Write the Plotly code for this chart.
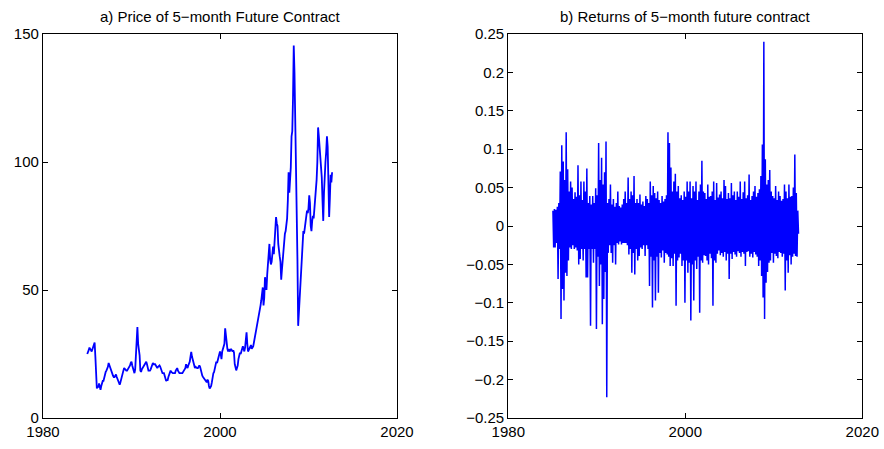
import plotly.graph_objects as go

# ---------------- data ----------------
# monthly price of the 5-month future contract, Jan 1985 .. Sep 2012
price = [
    25.0, 25.5, 26.5, 27.5, 26.5, 26.5, 26.0, 27.0, 28.0, 28.5, 29.5, 24.0,   # 1985
    17.0, 11.5, 12.5, 12.0, 13.5, 12.5, 11.0, 12.5, 14.0, 14.5, 14.5, 16.0,   # 1986
    17.5, 18.0, 18.5, 19.0, 20.0, 21.5, 20.5, 19.5, 19.5, 18.5, 17.0, 16.5,   # 1987
    16.0, 16.0, 16.5, 17.0, 16.0, 15.0, 14.5, 14.0, 13.0, 14.0, 15.5, 17.0,   # 1988
    17.5, 18.5, 19.5, 19.0, 19.0, 18.5, 18.5, 19.0, 19.5, 19.5, 20.5, 21.5,   # 1989
    22.0, 20.5, 19.0, 18.0, 17.5, 19.0, 24.0, 33.0, 35.5, 29.0, 27.0, 24.5,   # 1990
    18.5, 18.0, 19.0, 19.5, 19.5, 20.0, 20.5, 21.5, 22.0, 21.0, 19.5, 18.5,   # 1991
    18.5, 18.5, 19.0, 20.0, 20.5, 21.5, 21.0, 21.0, 21.0, 20.5, 20.0, 19.5,   # 1992
    20.0, 20.5, 20.5, 20.0, 19.0, 18.0, 17.5, 17.5, 17.5, 16.5, 15.5, 14.5,   # 1993
    14.8, 14.8, 16.0, 17.0, 18.0, 18.5, 18.0, 17.5, 17.5, 17.5, 17.5, 17.5,   # 1994
    18.5, 19.5, 19.5, 18.5, 17.5, 17.5, 17.5, 17.5, 17.5, 17.5, 18.0, 18.5,   # 1995
    18.5, 19.5, 21.0, 20.0, 19.5, 20.5, 21.0, 22.0, 24.0, 25.8, 24.0, 23.0,   # 1996
    21.0, 20.0, 19.5, 20.0, 19.5, 19.5, 19.5, 20.0, 20.5, 20.0, 18.5, 17.5,   # 1997
    16.5, 16.0, 15.5, 15.5, 14.5, 14.5, 14.0, 15.0, 14.5, 12.5, 11.5, 12.0,   # 1998
    12.5, 14.0, 16.5, 17.5, 18.0, 19.0, 20.5, 22.0, 21.5, 22.5, 24.0, 25.0,   # 1999
    26.0, 25.0, 23.0, 26.0, 27.0, 27.0, 29.0, 35.0, 31.0, 30.0, 27.0, 26.0,   # 2000
    27.0, 26.0, 26.5, 27.0, 26.5, 26.0, 26.5, 25.5, 21.0, 19.5, 18.6, 19.5,   # 2001
    20.5, 23.0, 25.0, 25.5, 25.0, 26.0, 27.0, 28.0, 27.0, 26.0, 27.5, 30.0,   # 2002
    33.5, 29.0, 26.0, 26.5, 27.0, 28.0, 28.5, 27.0, 27.5, 28.0, 29.5, 31.0,   # 2003
    33.0, 33.5, 36.0, 37.0, 38.0, 40.0, 42.0, 44.0, 46.0, 49.0, 51.0, 44.0,   # 2004
    47.0, 55.0, 52.0, 50.0, 56.0, 59.0, 64.0, 68.0, 62.0, 60.0, 61.0, 65.0,   # 2005
    67.0, 64.0, 70.0, 74.0, 78.5, 76.0, 75.0, 68.0, 63.0, 63.0, 61.0, 54.0,   # 2006
    58.0, 62.0, 66.0, 68.0, 72.0, 73.0, 76.0, 78.0, 85.0, 96.0, 88.0, 92.0,   # 2007
    98.0, 110.0, 112.0, 125.0, 145.5, 135.0, 118.0, 105.0, 80.0, 62.0, 36.0, 42.0,  # 2008
    46.0, 52.0, 55.0, 62.0, 70.0, 73.0, 72.0, 75.0, 76.0, 80.0, 81.0, 80.0,   # 2009
    82.0, 87.0, 84.0, 75.0, 73.0, 77.0, 79.0, 78.0, 82.0, 85.0, 87.0, 93.0,   # 2010
    100.0, 113.5, 110.0, 106.0, 100.0, 97.0, 94.0, 85.0, 77.0, 88.0, 98.0, 100.0,  # 2011
    104.0, 110.0, 106.0, 84.0, 78.5, 86.0, 95.0, 92.0, 96.0,                 # 2012
]

# two-monthly maximum and minimum of the daily returns (6 bins per year)
ret_max = [
    0.020, 0.022, 0.021, 0.025, 0.030, 0.071,   # 1985
    0.105, 0.084, 0.060, 0.122, 0.074, 0.045,   # 1986
    0.058, 0.050, 0.035, 0.044, 0.038, 0.079,   # 1987
    0.040, 0.058, 0.034, 0.058, 0.045, 0.075,   # 1988
    0.030, 0.039, 0.028, 0.039, 0.030, 0.049,   # 1989
    0.040, 0.108, 0.060, 0.089, 0.054, 0.070,   # 1990
    0.110, 0.030, 0.035, 0.054, 0.028, 0.035,   # 1991
    0.025, 0.030, 0.045, 0.026, 0.024, 0.028,   # 1992
    0.035, 0.045, 0.030, 0.063, 0.035, 0.045,   # 1993
    0.040, 0.065, 0.030, 0.035, 0.030, 0.041,   # 1994
    0.028, 0.032, 0.026, 0.039, 0.035, 0.030,   # 1995
    0.058, 0.040, 0.052, 0.043, 0.036, 0.045,   # 1996
    0.034, 0.030, 0.039, 0.032, 0.035, 0.040,   # 1997
    0.122, 0.108, 0.076, 0.045, 0.058, 0.068,   # 1998
    0.045, 0.052, 0.036, 0.040, 0.034, 0.045,   # 1999
    0.038, 0.058, 0.045, 0.058, 0.036, 0.052,   # 2000
    0.045, 0.058, 0.034, 0.045, 0.054, 0.085,   # 2001
    0.045, 0.043, 0.035, 0.054, 0.038, 0.039,   # 2002
    0.045, 0.058, 0.034, 0.056, 0.037, 0.041,   # 2003
    0.045, 0.036, 0.060, 0.052, 0.035, 0.043,   # 2004
    0.036, 0.056, 0.040, 0.045, 0.034, 0.045,   # 2005
    0.038, 0.058, 0.035, 0.044, 0.058, 0.036,   # 2006
    0.040, 0.067, 0.034, 0.039, 0.045, 0.052,   # 2007
    0.038, 0.043, 0.048, 0.065, 0.106, 0.240,   # 2008
    0.087, 0.054, 0.060, 0.073, 0.045, 0.039,   # 2009
    0.036, 0.052, 0.034, 0.045, 0.039, 0.033,   # 2010
    0.035, 0.054, 0.045, 0.036, 0.054, 0.038,   # 2011
    0.039, 0.050, 0.093, 0.043, 0.020,          # 2012
]
ret_min = [
    -0.028, -0.028, -0.022, -0.069, -0.030, -0.121,   # 1985
    -0.082, -0.097, -0.061, -0.065, -0.045, -0.028,   # 1986
    -0.030, -0.025, -0.030, -0.028, -0.032, -0.050,   # 1987
    -0.043, -0.030, -0.045, -0.030, -0.067, -0.067,   # 1988
    -0.030, -0.130, -0.030, -0.048, -0.030, -0.134,   # 1989
    -0.040, -0.078, -0.050, -0.128, -0.095, -0.060,   # 1990
    -0.223, -0.035, -0.025, -0.035, -0.048, -0.025,   # 1991
    -0.050, -0.022, -0.024, -0.020, -0.024, -0.022,   # 1992
    -0.022, -0.022, -0.025, -0.037, -0.030, -0.061,   # 1993
    -0.035, -0.063, -0.030, -0.045, -0.039, -0.028,   # 1994
    -0.030, -0.025, -0.039, -0.025, -0.030, -0.078,   # 1995
    -0.040, -0.106, -0.045, -0.097, -0.040, -0.087,   # 1996
    -0.035, -0.041, -0.032, -0.048, -0.035, -0.037,   # 1997
    -0.040, -0.052, -0.042, -0.052, -0.036, -0.104,   # 1998
    -0.045, -0.041, -0.036, -0.052, -0.045, -0.100,   # 1999
    -0.045, -0.061, -0.048, -0.123, -0.050, -0.097,   # 2000
    -0.045, -0.056, -0.040, -0.113, -0.045, -0.048,   # 2001
    -0.038, -0.039, -0.045, -0.050, -0.036, -0.042,   # 2002
    -0.104, -0.045, -0.048, -0.036, -0.032, -0.038,   # 2003
    -0.035, -0.040, -0.034, -0.045, -0.036, -0.069,   # 2004
    -0.036, -0.043, -0.034, -0.037, -0.040, -0.033,   # 2005
    -0.035, -0.040, -0.034, -0.036, -0.052, -0.034,   # 2006
    -0.033, -0.040, -0.036, -0.041, -0.034, -0.037,   # 2007
    -0.040, -0.052, -0.045, -0.065, -0.093, -0.121,   # 2008
    -0.074, -0.060, -0.048, -0.045, -0.035, -0.048,   # 2009
    -0.036, -0.039, -0.042, -0.034, -0.035, -0.040,   # 2010
    -0.036, -0.084, -0.045, -0.061, -0.038, -0.050,   # 2011
    -0.040, -0.036, -0.039, -0.040, -0.010,           # 2012
]

start_year = 1985
x_ticks = [1980, 2000, 2020]
price_ticks = [0, 50, 100, 150]
ret_ticks = [-0.25, -0.2, -0.15, -0.1, -0.05, 0, 0.05, 0.1, 0.15, 0.2, 0.25]
ret_tick_text = ["\u22120.25", "\u22120.2", "\u22120.15", "\u22120.1", "\u22120.05",
                 "0", "0.05", "0.1", "0.15", "0.2", "0.25"]
title_a = "a) Price of 5\u2212month Future Contract"
title_b = "b) Returns of 5\u2212month future contract"

# ---------------- build traces ----------------
price_x = [start_year + i / 12 for i in range(len(price))]

ret_x, ret_y = [], []
for i, (hi, lo) in enumerate(zip(ret_max, ret_min)):
    ret_x += [start_year + (i + 0.25) / 6, start_year + (i + 0.75) / 6]
    ret_y += [hi, lo]

BLUE = "#0000ff"
fig = go.Figure()
fig.add_trace(go.Scatter(x=price_x, y=price, mode="lines",
                         line=dict(color=BLUE, width=1.8), xaxis="x", yaxis="y",
                         showlegend=False, hoverinfo="skip"))
fig.add_trace(go.Scatter(x=ret_x, y=ret_y, mode="lines",
                         line=dict(color=BLUE, width=1.5), xaxis="x2", yaxis="y2",
                         showlegend=False, hoverinfo="skip"))

W, H = 884, 449
FONT = dict(family="Liberation Sans, Arial, Helvetica, sans-serif", size=15, color="black")

def axis_common():
    return dict(showline=True, linecolor="black", linewidth=1.3, mirror="allticks",
                ticks="inside", ticklen=5, tickwidth=1, tickcolor="black",
                showgrid=False, zeroline=False, tickfont=FONT, automargin=False)

y_dom = [1 - 418 / H, 1 - 34 / H]
fig.update_layout(
    width=W, height=H, margin=dict(l=0, r=0, t=0, b=0, autoexpand=False),
    paper_bgcolor="white", plot_bgcolor="white", font=FONT,
    xaxis=dict(domain=[43 / W, 397 / W], range=[1980, 2020], tickvals=x_ticks,
               ticktext=[str(v) for v in x_ticks], anchor="y", **axis_common()),
    yaxis=dict(domain=y_dom, range=[0, 150], tickvals=price_ticks,
               ticktext=[str(v) for v in price_ticks], anchor="x", **axis_common()),
    xaxis2=dict(domain=[508.3 / W, 862.3 / W], range=[1980, 2020], tickvals=x_ticks,
                ticktext=[str(v) for v in x_ticks], anchor="y2", **axis_common()),
    yaxis2=dict(domain=y_dom, range=[-0.25, 0.25], tickvals=ret_ticks,
                ticktext=ret_tick_text, anchor="x2", **axis_common()),
    annotations=[
        dict(text=title_a, x=220 / W, y=1 - 16 / H, xref="paper", yref="paper",
             xanchor="center", yanchor="middle", showarrow=False, font=FONT),
        dict(text=title_b, x=685 / W, y=1 - 16 / H, xref="paper", yref="paper",
             xanchor="center", yanchor="middle", showarrow=False, font=FONT),
    ],
)

fig.write_html("out.html")
